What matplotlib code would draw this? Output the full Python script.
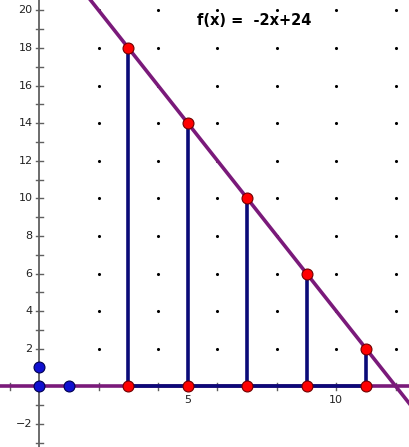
import matplotlib.pyplot as plt
import numpy as np

# data
slope = -2
intercept = 24
stem_x = [3, 5, 7, 9, 11]
stem_y = [slope * x + intercept for x in stem_x]
blue_x = [0, 0, 1]
blue_y = [0, 1, 0]
x_labels = [5, 10]
y_labels = [-2, 2, 4, 6, 8, 10, 12, 14, 16, 18, 20]

xmin, xmax = -1.32, 12.48
ymin, ymax = -3.23, 20.55

fig = plt.figure(figsize=(4.1, 4.47), dpi=100)
ax = fig.add_axes([0, 0, 1, 1])
ax.set_xlim(xmin, xmax)
ax.set_ylim(ymin, ymax)
ax.axis('off')

# dotted grid (only shown above the x axis)
gx = np.arange(2, 14, 2)
gy = np.arange(2, 22, 2)
GX, GY = np.meshgrid(gx, gy)
ax.scatter(GX.ravel(), GY.ravel(), s=5, color='black', zorder=1, linewidths=0)

axis_col = '#606060'
# y axis with ticks
ax.plot([0, 0], [ymin, ymax], color=axis_col, lw=1.3, zorder=2)
for t in range(-3, 21):
    ax.plot([-0.12, 0.12], [t, t], color=axis_col, lw=1, zorder=2)
# x axis ticks
for t in range(-1, 13):
    ax.plot([t, t], [-0.2, 0.2], color=axis_col, lw=1, zorder=2)

for v in y_labels:
    ax.text(-0.22, v, str(v).replace('-', '\u2212'), ha='right', va='center',
            fontsize=8, color='#222222')
for v in x_labels:
    ax.text(v, -0.45, str(v), ha='center', va='top', fontsize=8, color='#222222')

# x axis drawn as purple line
ax.plot([xmin, xmax], [0, 0], color='#7a1a7a', lw=2.6, zorder=3)

# function line
lx = np.array([xmin, xmax])
ax.plot(lx, slope * lx + intercept, color='#7a1a7a', lw=2.6, zorder=3)

# stems and base
navy = '#0a0a78'
ax.plot([stem_x[0], stem_x[-1]], [0, 0], color=navy, lw=2.6, zorder=4)
for x, y in zip(stem_x, stem_y):
    ax.plot([x, x], [0, y], color=navy, lw=2.6, zorder=4)

ax.scatter(stem_x, stem_y, s=62, color='red', edgecolors='#700000',
           linewidths=0.8, zorder=5)
ax.scatter(stem_x, [0] * len(stem_x), s=62, color='red', edgecolors='#700000',
           linewidths=0.8, zorder=5)
ax.scatter(blue_x, blue_y, s=62, color='#1010d0', edgecolors='#000050',
           linewidths=0.8, zorder=5)

ax.text(7.25, 19.45, 'f(x) =  -2x+24', ha='center', va='center',
        fontsize=10.5, fontweight='bold', color='black')

fig.savefig('out.png', dpi=100)
